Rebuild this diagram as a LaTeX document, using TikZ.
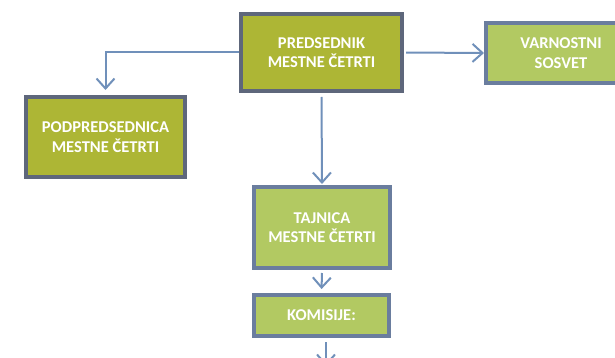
\documentclass[tikz,border=0pt]{standalone}
\usepackage{fontspec}
\setmainfont{Carlito}[BoldFont={Carlito Bold}]
\usetikzlibrary{arrows.meta}
\definecolor{olivedark}{HTML}{ADB635}
\definecolor{olivelight}{HTML}{B2C962}
\definecolor{framedark}{HTML}{5E677B}
\definecolor{framelight}{HTML}{6A7D9E}
\definecolor{arrowblue}{HTML}{7090BA}
\begin{document}
\begin{tikzpicture}[x=1pt,y=-1pt,
    box/.style={draw,line width=4pt,text=white,align=center,
        font=\bfseries\fontsize{16.5}{19.5}\selectfont},
    darkbox/.style={box,draw=framedark,fill=olivedark},
    lightbox/.style={box,draw=framelight,fill=olivelight},
    arr/.style={draw=arrowblue,line width=2pt,
        -{Straight Barb[length=10pt,width=18pt]}}]
\useasboundingbox (0,0) rectangle (615,358);

\node[darkbox,minimum width=161pt,minimum height=77pt] (predsednik) at (321.5,52.5)
    {PREDSEDNIK\\MESTNE ČETRTI};
\node[darkbox,minimum width=159pt,minimum height=80pt] (podpredsednica) at (105.5,137)
    {PODPREDSEDNICA\\MESTNE ČETRTI};
\node[lightbox,minimum width=150pt,minimum height=60pt] (varnostni) at (561,53)
    {VARNOSTNI\\SOSVET};
\node[lightbox,minimum width=136pt,minimum height=81pt] (tajnica) at (322,227.5)
    {TAJNICA\\MESTNE ČETRTI};
\node[lightbox,minimum width=135pt,minimum height=41pt] (komisije) at (321.5,315.5)
    {KOMISIJE:};
\coordinate (naprej) at (326,366);

\draw[arr,shorten >=5pt] (predsednik.west) -| (podpredsednica.north);
\draw[arr,shorten <=2pt] (predsednik.east) -- (varnostni.west);
\draw[arr,shorten <=4pt,shorten >=1pt] (predsednik.south) -- (tajnica.north);
\draw[arr,shorten <=3pt,shorten >=4pt] (tajnica.south) -- (komisije.north);
\draw[arr,shorten <=4pt] (komisije.south -| naprej) -- (naprej);
\end{tikzpicture}
\end{document}
